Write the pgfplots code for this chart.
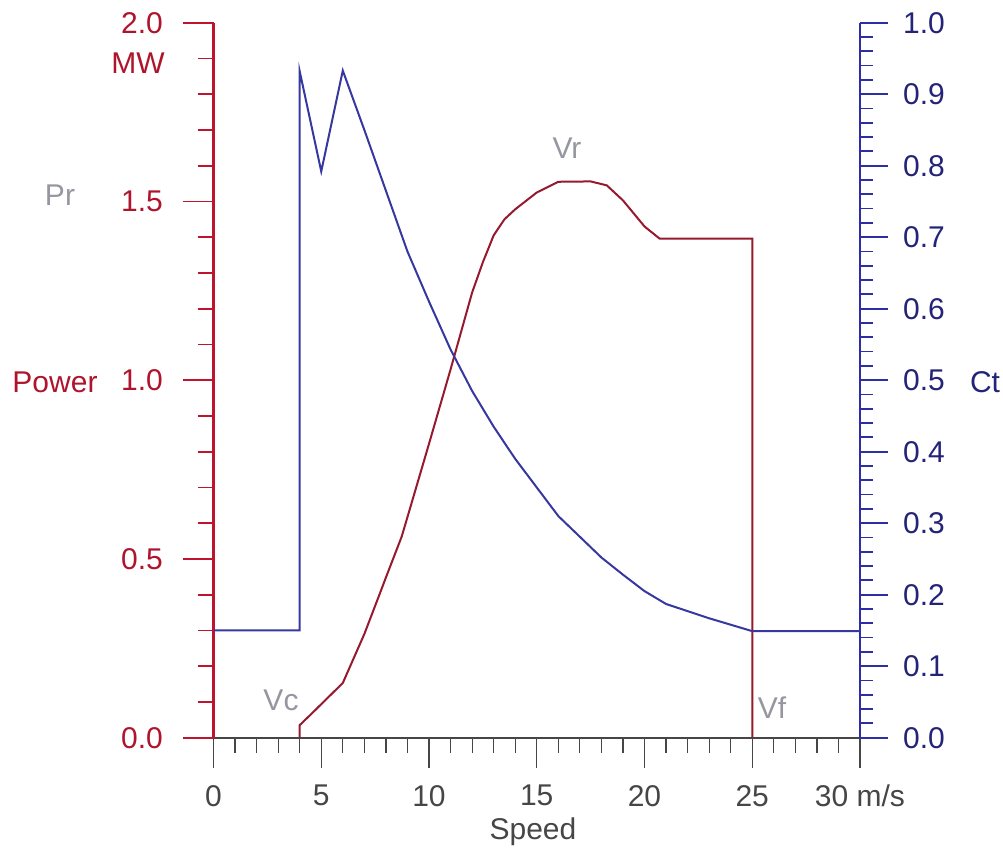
\documentclass[border=0pt]{standalone}
\usepackage{pgfplots}
\pgfplotsset{compat=1.18}
\usepackage{fontspec}
\setmainfont{Liberation Sans}
\definecolor{axred}{RGB}{190,20,45}
\definecolor{curvered}{RGB}{150,25,45}
\definecolor{labred}{RGB}{175,20,45}
\definecolor{axblue}{RGB}{45,45,165}
\definecolor{curveblue}{RGB}{55,55,160}
\definecolor{labblue}{RGB}{35,35,120}
\definecolor{xgray}{RGB}{70,70,70}
\definecolor{lgray}{RGB}{150,150,160}
\pgfplotstableread{
x p
4 0
4 0.035
4.6 0.07
6 0.153
7 0.29
7.73 0.405
8 0.448
8.73 0.562
9 0.617
10 0.822
11 1.03
12 1.245
12.5 1.33
13 1.405
13.5 1.45
14 1.478
15 1.525
16 1.555
17.5 1.556
18.25 1.545
19 1.503
20 1.43
20.7 1.396
25 1.396
25 0
}\powertable
\pgfplotstableread{
x ct
0 0.15
4 0.15
4 0.932
5 0.792
6 0.933
7 0.85
8 0.765
9 0.68
10 0.61
11 0.543
12 0.485
13 0.435
14 0.39
15 0.35
16 0.31
17 0.281
18 0.252
19 0.228
20 0.205
21 0.187
22 0.177
23 0.167
24 0.158
25 0.149
30 0.149
}\cttable
\begin{document}
\begin{tikzpicture}[font=\fontsize{15}{18}\selectfont]
\path[use as bounding box] (0,0) rectangle (501.5pt,425pt);
\begin{axis}[
  at={(106.75pt,56.15pt)}, anchor=south west, scale only axis,
  width=323.25pt, height=357.5pt,
  xmin=0, xmax=30, ymin=0, ymax=2,
  axis x line*=bottom, axis y line*=left,
  x axis line style={xgray, line width=1pt, -},
  y axis line style={axred, line width=1.2pt, -},
  xtick={0,5,10,15,20,25,30}, minor x tick num=4,
  xticklabels={0,5,10,15,20,25,30 m/s},
  ytick={0,0.5,1,1.5,2}, minor y tick num=4,
  tick align=outside,
  major tick length=15.25pt, minor tick length=7.75pt,
  xtick style={xgray, line width=0.6pt},
  ytick style={axred, line width=0.9pt},
  xticklabel style={text=xgray, yshift=-5pt},
  yticklabel style={text=labred, xshift=-6.5pt, /pgf/number format/.cd, fixed, fixed zerofill, precision=1},
  /pgf/number format/assume math mode=true,
  clip=false,
]
\addplot[curvered, line width=1pt] table[x=x, y=p] {\powertable};
\end{axis}
\begin{axis}[
  at={(106.75pt,56.15pt)}, anchor=south west, scale only axis,
  width=323.25pt, height=357.5pt,
  xmin=0, xmax=30, ymin=0, ymax=1,
  hide x axis, axis y line*=right,
  y axis line style={axblue, line width=1.2pt, -},
  ytick={0,0.1,0.2,0.3,0.4,0.5,0.6,0.7,0.8,0.9,1}, minor y tick num=4,
  tick align=outside,
  major tick length=14pt, minor tick length=6.5pt,
  ytick style={axblue, line width=0.9pt},
  yticklabel style={text=labblue, xshift=4pt, /pgf/number format/.cd, fixed, fixed zerofill, precision=1},
  /pgf/number format/assume math mode=true,
  clip=false,
]
\addplot[curveblue, line width=1pt] table[x=x, y=ct] {\cttable};
\end{axis}
\node[text=labred] at (69pt,393.5pt) {MW};
\node[text=lgray] at (30pt,327.5pt) {Pr};
\node[text=labred] at (27.5pt,234pt) {Power};
\node[text=labblue] at (492.5pt,234pt) {Ct};
\node[text=lgray] at (283.5pt,351pt) {Vr};
\node[text=lgray] at (140.5pt,75pt) {Vc};
\node[text=lgray] at (386pt,71pt) {Vf};
\node[text=xgray] at (266.5pt,9pt) {Speed};
\end{tikzpicture}
\end{document}
